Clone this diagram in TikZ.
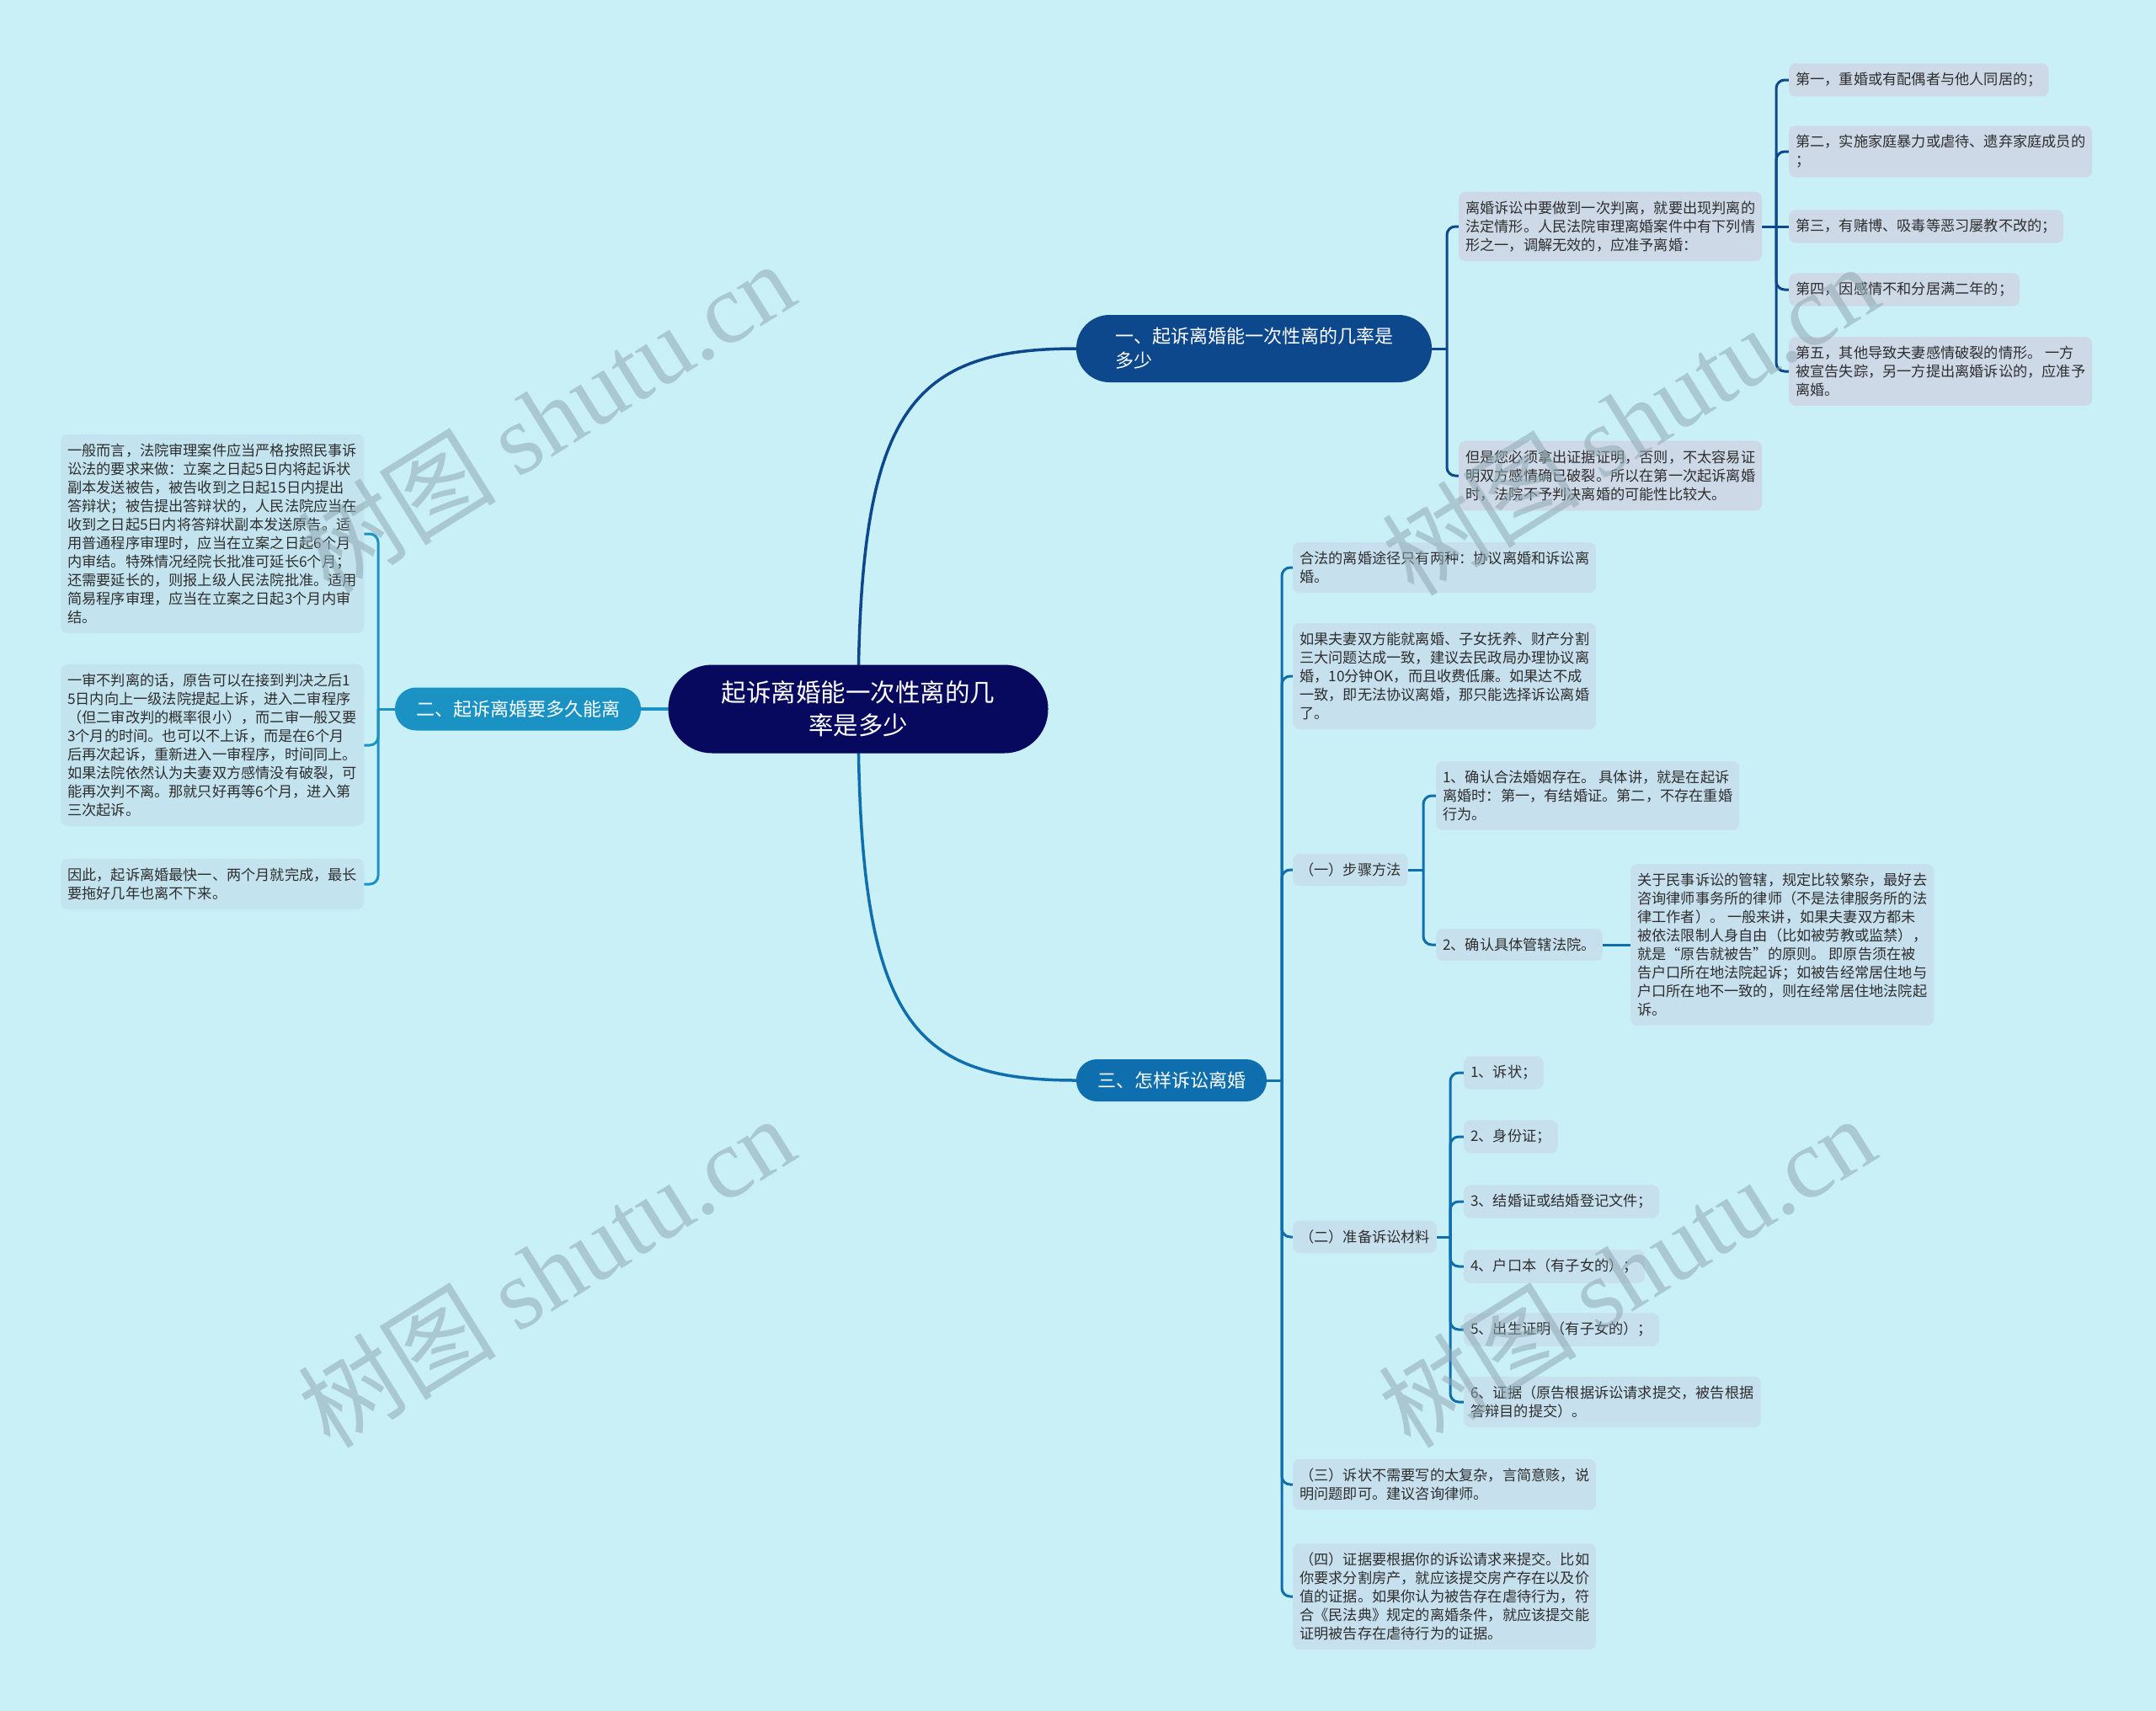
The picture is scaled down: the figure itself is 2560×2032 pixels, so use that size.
\documentclass[tikz,border=0pt]{standalone}
\usepackage{fontspec}
\setmainfont{Noto Sans CJK SC}
\newfontfamily\wmlatin{Liberation Serif}
\pgfdeclarelayer{bglayer}
\pgfdeclarelayer{edges}
\pgfdeclarelayer{wmlayer}
\pgfsetlayers{bglayer,edges,main,wmlayer}
\definecolor{bgc}{HTML}{C9EFF7}
\definecolor{rootc}{HTML}{07095E}
\definecolor{bonec}{HTML}{0E488C}
\definecolor{btwoc}{HTML}{1A92C4}
\definecolor{bthreec}{HTML}{0F6FAE}
\definecolor{lf1}{HTML}{CED9E8}
\definecolor{lf2}{HTML}{C3E4EF}
\definecolor{lf3}{HTML}{C7E0EE}
\definecolor{txtc}{HTML}{2E2E2E}
\definecolor{wmc}{HTML}{8FA9B2}
\begin{document}
\begin{tikzpicture}[x=1pt,y=-1pt,
  leaf/.style={rounded corners=8pt, inner xsep=8pt, inner ysep=11pt, align=left, text=txtc, font=\fontsize{17.2}{22}\selectfont},
  leafone/.style={leaf, fill=lf1, anchor=west},
  leaftwo/.style={leaf, fill=lf2, anchor=west},
  leafthree/.style={leaf, fill=lf3, anchor=west},
  rootnode/.style={rounded corners=52pt, minimum width=451pt, minimum height=105pt, inner sep=0pt, fill=rootc, text=white, align=center, font=\fontsize{29.5}{39}\selectfont},
  branchnode/.style={inner sep=0pt, text=white, align=left, font=\fontsize{22}{29}\selectfont},
  edgeone/.style={draw=bonec, line width=3pt, rounded corners=10pt},
  edgetwo/.style={draw=btwoc, line width=3pt, rounded corners=10pt},
  edgethree/.style={draw=bthreec, line width=3pt, rounded corners=10pt},
  wmark/.style={text=wmc, opacity=0.55, rotate=32, inner sep=0pt, font=\fontsize{118}{118}\selectfont}
]
\begin{pgfonlayer}{bglayer}
\fill[bgc] (0,0) rectangle (2560,2032);
\end{pgfonlayer}
\useasboundingbox (0,0) rectangle (2560,2032);

% root and branches
\node[rootnode] (root) at (1019,842) {起诉离婚能一次性离的几\\率是多少};
\node[branchnode, fill=bonec, rounded corners=39.5pt, minimum width=422pt, minimum height=80pt] (b1) at (1489,414) {一、起诉离婚能一次性离的几率是\\多少};
\node[branchnode, fill=btwoc, rounded corners=25pt, minimum width=292pt, minimum height=51pt] (b2) at (615,842) {二、起诉离婚要多久能离};
\node[branchnode, fill=bthreec, rounded corners=24.5pt, minimum width=226pt, minimum height=50pt] (b3) at (1391,1283) {三、怎样诉讼离婚};

% branch 1 leaves
\node[leafone] (A) at (1732,269) {离婚诉讼中要做到一次判离，就要出现判离的\\法定情形。人民法院审理离婚案件中有下列情\\形之一，调解无效的，应准予离婚：};
\node[leafone] (B) at (1732,565) {但是您必须拿出证据证明，否则，不太容易证\\明双方感情确已破裂。所以在第一次起诉离婚\\时，法院不予判决离婚的可能性比较大。};
\node[leafone] (I1) at (2124,95) {第一，重婚或有配偶者与他人同居的；};
\node[leafone] (I2) at (2124,180) {第二，实施家庭暴力或虐待、遗弃家庭成员的\\；};
\node[leafone] (I3) at (2124,269) {第三，有赌博、吸毒等恶习屡教不改的；};
\node[leafone] (I4) at (2124,344) {第四，因感情不和分居满二年的；};
\node[leafone] (I5) at (2124,441) {第五，其他导致夫妻感情破裂的情形。 一方\\被宣告失踪，另一方提出离婚诉讼的，应准予\\离婚。};

% branch 2 leaves
\node[leaftwo] (L1) at (72,634) {一般而言，法院审理案件应当严格按照民事诉\\讼法的要求来做：立案之日起5日内将起诉状\\副本发送被告，被告收到之日起15日内提出\\答辩状；被告提出答辩状的，人民法院应当在\\收到之日起5日内将答辩状副本发送原告。适\\用普通程序审理时，应当在立案之日起6个月\\内审结。特殊情况经院长批准可延长6个月；\\还需要延长的，则报上级人民法院批准。适用\\简易程序审理，应当在立案之日起3个月内审\\结。};
\node[leaftwo] (L2) at (72,885) {一审不判离的话，原告可以在接到判决之后1\\5日内向上一级法院提起上诉，进入二审程序\\（但二审改判的概率很小），而二审一般又要\\3个月的时间。也可以不上诉，而是在6个月\\后再次起诉，重新进入一审程序，时间同上。\\如果法院依然认为夫妻双方感情没有破裂，可\\能再次判不离。那就只好再等6个月，进入第\\三次起诉。};
\node[leaftwo] (L3) at (72,1050) {因此，起诉离婚最快一、两个月就完成，最长\\要拖好几年也离不下来。};

% branch 3 leaves
\node[leafthree] (C1) at (1535,674) {合法的离婚途径只有两种：协议离婚和诉讼离\\婚。};
\node[leafthree] (C2) at (1535,803) {如果夫妻双方能就离婚、子女抚养、财产分割\\三大问题达成一致，建议去民政局办理协议离\\婚，10分钟OK，而且收费低廉。如果达不成\\一致，即无法协议离婚，那只能选择诉讼离婚\\了。};
\node[leafthree] (C3) at (1535,1033) {（一）步骤方法};
\node[leafthree] (C3a) at (1705,945) {1、确认合法婚姻存在。 具体讲，就是在起诉\\离婚时：第一，有结婚证。第二，不存在重婚\\行为。};
\node[leafthree] (C3b) at (1705,1122) {2、确认具体管辖法院。};
\node[leafthree] (C3c) at (1936,1122) {关于民事诉讼的管辖，规定比较繁杂，最好去\\咨询律师事务所的律师（不是法律服务所的法\\律工作者）。 一般来讲，如果夫妻双方都未\\被依法限制人身自由（比如被劳教或监禁），\\就是“原告就被告”的原则。 即原告须在被\\告户口所在地法院起诉；如被告经常居住地与\\户口所在地不一致的，则在经常居住地法院起\\诉。};
\node[leafthree] (C4) at (1535,1469) {（二）准备诉讼材料};
\node[leafthree] (M1) at (1738,1274) {1、诉状；};
\node[leafthree] (M2) at (1738,1350) {2、身份证；};
\node[leafthree] (M3) at (1738,1427) {3、结婚证或结婚登记文件；};
\node[leafthree] (M4) at (1738,1504) {4、户口本（有子女的）；};
\node[leafthree] (M5) at (1738,1579) {5、出生证明（有子女的）；};
\node[leafthree] (M6) at (1738,1665) {6、证据（原告根据诉讼请求提交，被告根据\\答辩目的提交）。};
\node[leafthree] (C5) at (1535,1763) {（三）诉状不需要写的太复杂，言简意赅，说\\明问题即可。建议咨询律师。};
\node[leafthree] (C6) at (1535,1896) {（四）证据要根据你的诉讼请求来提交。比如\\你要求分割房产，就应该提交房产存在以及价\\值的证据。如果你认为被告存在虐待行为，符\\合《民法典》规定的离婚条件，就应该提交能\\证明被告存在虐待行为的证据。};

% spine coordinates
\coordinate (s1) at (1718,414);
\coordinate (sA) at (2109,269);
\coordinate (s2) at (449,842);
\coordinate (s3) at (1522,1283);
\coordinate (sC3) at (1690,1033);
\coordinate (sC4) at (1722,1469);

\begin{pgfonlayer}{edges}
% main connectors
\draw[edgeone, line width=3.5pt] (root.center) .. controls +(0,-352) and +(-200,0) .. (b1.west);
\draw[edgethree, line width=3.5pt] (root.center) .. controls +(0,366) and +(-200,0) .. (b3.west);
\draw[edgetwo, line width=3.5pt] (root.center) -- (b2.east);
% branch 1
\draw[edgeone] (b1.east) -- (s1);
\draw[edgeone] (s1) |- (A.west);
\draw[edgeone] (s1) |- (B.west);
\draw[edgeone] (A.east) -- (I3.west);
\draw[edgeone] (sA) |- (I1.west);
\draw[edgeone] (sA) |- (I2.west);
\draw[edgeone] (sA) |- (I4.west);
\draw[edgeone] (sA) |- (I5.west);
% branch 2
\draw[edgetwo] (b2.west) -- (s2);
\draw[edgetwo] (s2) |- (L1.east);
\draw[edgetwo] (s2) |- (L2.east);
\draw[edgetwo] (s2) |- (L3.east);
% branch 3
\draw[edgethree] (b3.east) -- (s3);
\draw[edgethree] (s3) |- (C1.west);
\draw[edgethree] (s3) |- (C2.west);
\draw[edgethree] (s3) |- (C3.west);
\draw[edgethree] (s3) |- (C4.west);
\draw[edgethree] (s3) |- (C5.west);
\draw[edgethree] (s3) |- (C6.west);
\draw[edgethree] (C3.east) -- (sC3);
\draw[edgethree] (sC3) |- (C3a.west);
\draw[edgethree] (sC3) |- (C3b.west);
\draw[edgethree] (C3b.east) -- (C3c.west);
\draw[edgethree] (C4.east) -- (sC4);
\draw[edgethree] (sC4) |- (M1.west);
\draw[edgethree] (sC4) |- (M2.west);
\draw[edgethree] (sC4) |- (M3.west);
\draw[edgethree] (sC4) |- (M4.west);
\draw[edgethree] (sC4) |- (M5.west);
\draw[edgethree] (sC4) |- (M6.west);
\end{pgfonlayer}

% watermarks
\begin{pgfonlayer}{wmlayer}
\node[wmark] (w1) at (648,495) {树图 {\wmlatin shutu.cn}};
\node[wmark] (w2) at (1935,498) {树图 {\wmlatin shutu.cn}};
\node[wmark] (w3) at (648,1510) {树图 {\wmlatin shutu.cn}};
\node[wmark] (w4) at (1931,1510) {树图 {\wmlatin shutu.cn}};
\end{pgfonlayer}
\end{tikzpicture}
\end{document}
